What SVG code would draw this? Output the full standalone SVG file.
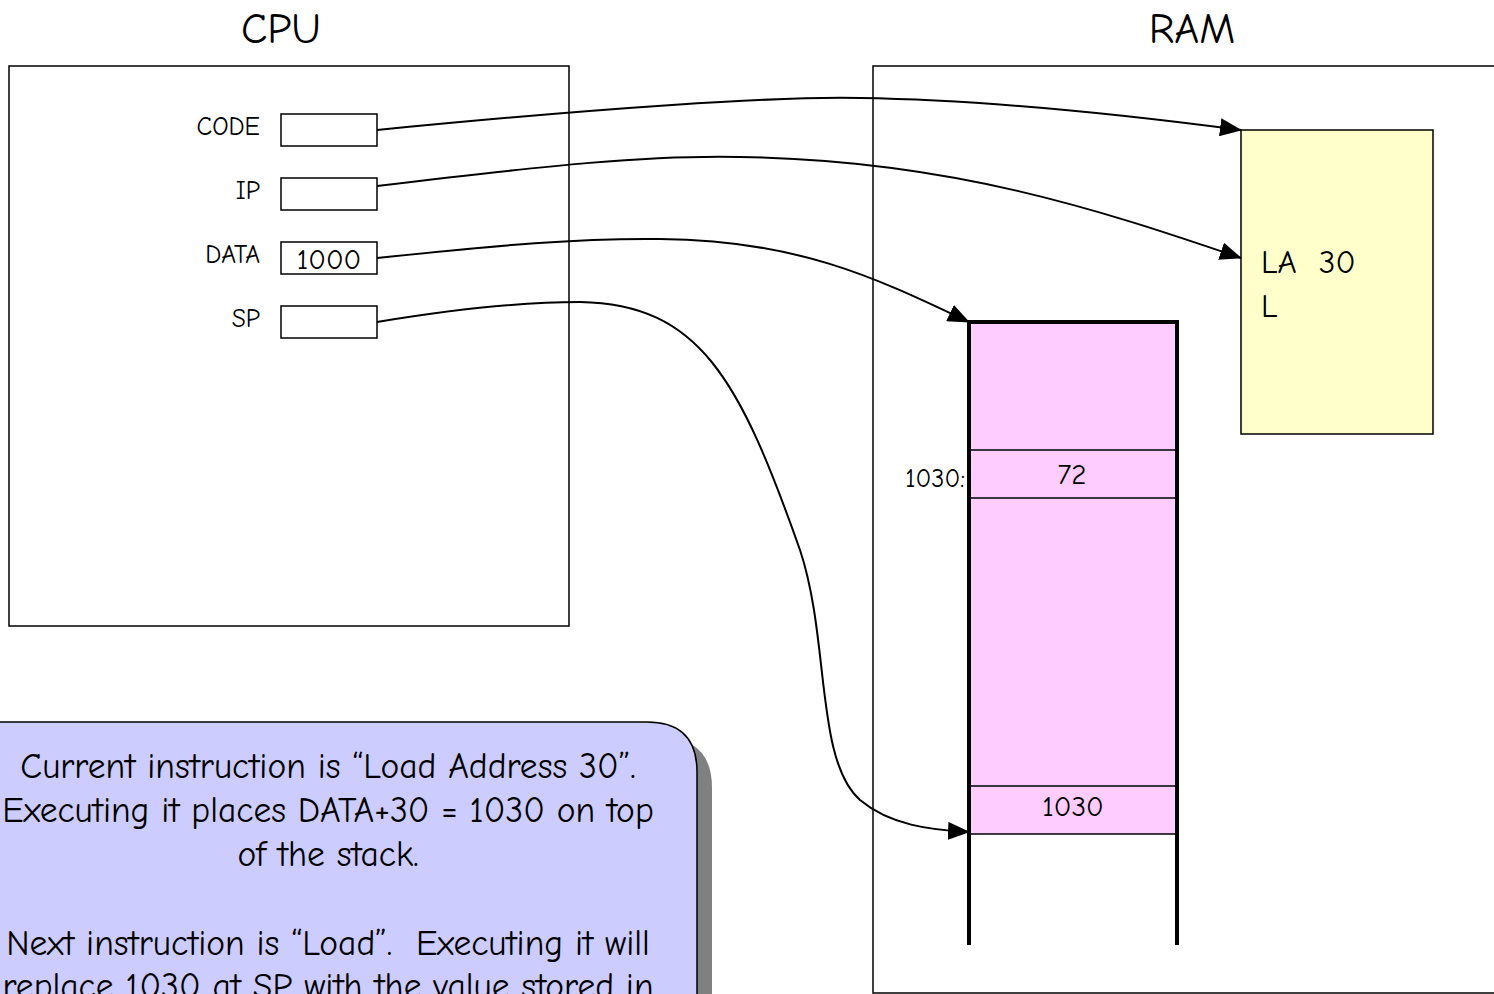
<svg xmlns="http://www.w3.org/2000/svg" width="1494" height="994" viewBox="0 0 1494 994">
<style>
text{font-family:"Comic Sans MS","Comic Neue","Noto Sans",sans-serif;fill:#000;white-space:pre}
.box{fill:#fff;stroke:#000;stroke-width:1.5}
.reg{fill:#fff;stroke:#000;stroke-width:1.5}
.lbl{font-size:25.5px;text-anchor:end}
.conn{fill:none;stroke:#000;stroke-width:2}
.thin{stroke:#000;stroke-width:1.5}
.thick{stroke:#000;stroke-width:4}
</style>
<defs>
<marker id="arr" viewBox="0 0 22 18" refX="21" refY="9" markerWidth="22" markerHeight="18" markerUnits="userSpaceOnUse" orient="auto">
<path d="M0,0 L22,9 L0,18 z" fill="#000"/>
</marker>
</defs>
<g id="cpu">
<text x="281" y="43" font-size="43" text-anchor="middle">CPU</text>
<rect class="box" x="9" y="66" width="560" height="560"/>
</g>
<g id="ram">
<text x="1192" y="43" font-size="43" text-anchor="middle">RAM</text>
<rect class="box" x="873" y="66" width="640" height="927"/>
</g>
<g id="reg-code"><text class="lbl" x="260" y="135">CODE</text><rect class="reg" x="281" y="114" width="96" height="32"/></g>
<g id="reg-ip"><text class="lbl" x="260" y="199">IP</text><rect class="reg" x="281" y="178" width="96" height="32"/></g>
<g id="reg-data"><text class="lbl" x="260" y="263">DATA</text><rect class="reg" x="281" y="242" width="96" height="32"/><text x="329" y="269" font-size="29" text-anchor="middle">1000</text></g>
<g id="reg-sp"><text class="lbl" x="260" y="327">SP</text><rect class="reg" x="281" y="306" width="96" height="32"/></g>
<g id="code-seg">
<rect x="1241" y="130" width="192" height="304" fill="#FFFFCC" stroke="#000" stroke-width="1.5"/>
<text x="1261" y="273" font-size="33" xml:space="preserve">LA  30</text>
<text x="1261" y="317" font-size="33">L</text>
</g>
<g id="stack">
<rect x="969" y="322" width="208" height="512" fill="#FFCCFF"/>
<line class="thin" x1="969" y1="450" x2="1177" y2="450"/>
<line class="thin" x1="969" y1="498" x2="1177" y2="498"/>
<line class="thin" x1="969" y1="786" x2="1177" y2="786"/>
<line class="thin" x1="969" y1="834" x2="1177" y2="834"/>
<line class="thick" x1="967" y1="322" x2="1179" y2="322"/>
<line class="thick" x1="969" y1="320" x2="969" y2="945"/>
<line class="thick" x1="1177" y1="320" x2="1177" y2="945"/>
<text x="1072" y="484" font-size="29" text-anchor="middle">72</text>
<text x="965" y="487" font-size="26" text-anchor="end">1030:</text>
<text x="1073" y="816" font-size="29" text-anchor="middle">1030</text>
</g>
<g id="connectors">
<path class="conn" marker-end="url(#arr)" d="M377,130 C600,108 780,96 860,98 C1000,100 1150,118 1241,130"/>
<path class="conn" marker-end="url(#arr)" d="M377,186 C550,165 650,155 740,157 C950,160 1100,210 1241,258"/>
<path class="conn" marker-end="url(#arr)" d="M377,258 C500,245 580,238 660,239 C800,240 880,280 969,322"/>
<path class="conn" marker-end="url(#arr)" d="M377,322 C450,310 520,302 580,302 C700,304 740,380 800,550 C830,640 815,760 860,800 C890,825 930,830 969,832"/>
</g>
<g id="callout">
<path d="M-25,738 L662,738 Q712,738 712,788 L712,1010 L-25,1010 z" fill="#808080"/>
<path d="M-40,722 L647,722 Q697,722 697,772 L697,1000 L-40,1000 z" fill="#CCCCFF" stroke="#000" stroke-width="1.5"/>
<g font-size="35.5" text-anchor="middle">
<text x="328" y="778">Current instruction is “Load Address 30”.</text>
<text x="328" y="822">Executing it places DATA+30 = 1030 on top</text>
<text x="328" y="866">of the stack.</text>
<text x="328" y="955" xml:space="preserve">Next instruction is “Load”.  Executing it will</text>
<text x="328" y="998">replace 1030 at SP with the value stored in</text>
</g>
</g>
</svg>
